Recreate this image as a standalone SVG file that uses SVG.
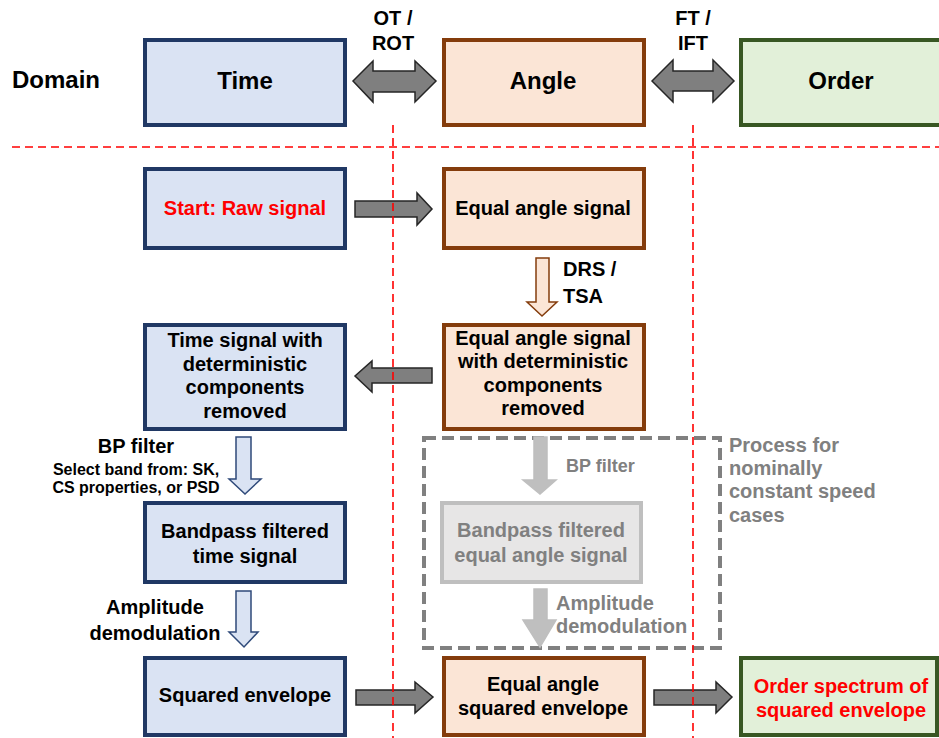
<svg xmlns="http://www.w3.org/2000/svg" width="939" height="738" viewBox="0 0 939 738">
  <defs>
    <style>
      text { font-family: "Liberation Sans", Arial, sans-serif; font-weight: bold; fill: #000; }
      .t20 { font-size: 20px; text-anchor: middle; }
      .t24 { font-size: 24px; text-anchor: middle; }
      .t16 { font-size: 16px; text-anchor: middle; }
      .red { fill: #FF0000; }
      .grey { fill: #808080; }
      .time { fill: #DAE3F3; stroke: #203864; stroke-width: 4; }
      .angle { fill: #FBE5D6; stroke: #843C0C; stroke-width: 4; }
      .order { fill: #E2F0D9; stroke: #385723; stroke-width: 4; }
      .ghost { fill: #E7E6E6; stroke: #BFBFBF; stroke-width: 4; }
      .flow { fill: #7F7F7F; stroke: #262626; stroke-width: 1.5; stroke-linejoin: miter; }
      .down-time { fill: #DAE3F3; stroke: #2F4A7A; stroke-width: 1.5; }
      .down-angle { fill: #FBE5D6; stroke: #843C0C; stroke-width: 1.5; }
      .down-grey { fill: #BFBFBF; stroke: #BFBFBF; stroke-width: 1.5; }
      .guide { stroke: #FF0000; stroke-width: 1.6; stroke-dasharray: 8 5; fill: none; }
      .frame { fill: none; stroke: #808080; stroke-width: 4; stroke-dasharray: 12 6; }
    </style>
  </defs>

  <rect width="939" height="738" fill="#FFFFFF"/>

  <!-- domain header row -->
  <text x="56" y="88" class="t24">Domain</text>

  <g id="domain-time">
    <rect x="145" y="40" width="200" height="85" class="time"/>
    <text x="245" y="89" class="t24">Time</text>
  </g>
  <g id="domain-angle">
    <rect x="444" y="40" width="200" height="85" class="angle"/>
    <text x="543" y="89" class="t24">Angle</text>
  </g>
  <g id="domain-order">
    <rect x="741" y="40" width="206" height="85" class="order"/>
    <text x="841" y="89" class="t24">Order</text>
  </g>

  <!-- process frame for nominally constant speed cases -->
  <g id="constant-speed-frame">
    <rect x="424" y="438" width="296" height="210" class="frame"/>
    <text x="729" y="452" class="grey" font-size="20">Process for</text>
    <text x="729" y="475" class="grey" font-size="20">nominally</text>
    <text x="729" y="498" class="grey" font-size="20">constant speed</text>
    <text x="729" y="522" class="grey" font-size="20">cases</text>
  </g>

  <!-- time column -->
  <g id="raw-signal">
    <rect x="145" y="169" width="200" height="79" class="time"/>
    <text x="245" y="215" class="t20 red">Start: Raw signal</text>
  </g>
  <g id="time-det-removed">
    <rect x="145" y="325" width="200" height="104" class="time"/>
    <text x="245" y="347" class="t20">Time signal with</text>
    <text x="245" y="371" class="t20">deterministic</text>
    <text x="245" y="394" class="t20">components</text>
    <text x="245" y="418" class="t20">removed</text>
  </g>
  <g id="time-bandpass">
    <rect x="145" y="503" width="200" height="79" class="time"/>
    <text x="245" y="538" class="t20">Bandpass filtered</text>
    <text x="245" y="563" class="t20">time signal</text>
  </g>
  <g id="time-sq-envelope">
    <rect x="145" y="658" width="200" height="77" class="time"/>
    <text x="245" y="702" class="t20">Squared envelope</text>
  </g>

  <!-- angle column -->
  <g id="angle-signal">
    <rect x="444" y="169" width="200" height="79" class="angle"/>
    <text x="543" y="215" class="t20">Equal angle signal</text>
  </g>
  <g id="angle-det-removed">
    <rect x="444" y="325" width="200" height="104" class="angle"/>
    <text x="543" y="345" class="t20">Equal angle signal</text>
    <text x="543" y="368" class="t20">with deterministic</text>
    <text x="543" y="392" class="t20">components</text>
    <text x="543" y="415" class="t20">removed</text>
  </g>
  <g id="angle-bandpass">
    <rect x="442" y="503" width="199" height="79" class="ghost"/>
    <text x="541" y="537" class="t20 grey">Bandpass filtered</text>
    <text x="541" y="562" class="t20 grey">equal angle signal</text>
  </g>
  <g id="angle-sq-envelope">
    <rect x="444" y="658" width="200" height="77" class="angle"/>
    <text x="543" y="691" class="t20">Equal angle</text>
    <text x="543" y="715" class="t20">squared envelope</text>
  </g>

  <!-- order column -->
  <g id="order-spectrum">
    <rect x="741" y="658" width="196" height="77" class="order"/>
    <text x="841" y="693" class="t20 red">Order spectrum of</text>
    <text x="841" y="717" class="t20 red">squared envelope</text>
  </g>

  <!-- connectors -->
  <g id="connectors">
    <!-- domain transforms -->
    <polygon class="flow" points="353,81 373,61 373,71 415,71 415,61 436,81 415,102 415,92 373,92 373,102"/>
    <polygon class="flow" points="652,81 673,60 673,71 713,71 713,60 734,81 713,102 713,91 673,91 673,102"/>
    <text x="393" y="25" class="t20">OT /</text>
    <text x="393" y="50" class="t20">ROT</text>
    <text x="693" y="25" class="t20">FT /</text>
    <text x="693" y="50" class="t20">IFT</text>

    <!-- raw signal to equal angle -->
    <polygon class="flow" points="355,201 417,201 417,193 432,209 417,225 417,217 355,217"/>
    <!-- DRS / TSA -->
    <polygon class="down-angle" points="536,258 549,258 549,302 557,302 542,316 527,302 536,302"/>
    <text x="563" y="276" font-size="20">DRS /</text>
    <text x="563" y="303" font-size="20">TSA</text>
    <!-- back to time domain -->
    <polygon class="flow" points="432,368 372,368 372,361 355,376 372,392 372,383 432,383"/>
    <!-- BP filter (time) -->
    <polygon class="down-time" points="236,437 251,437 251,479 261,479 245,494 229,479 236,479"/>
    <text x="136" y="453" class="t20">BP filter</text>
    <text x="136" y="475" class="t16">Select band from: SK,</text>
    <text x="136" y="493" class="t16">CS properties, or PSD</text>
    <!-- amplitude demodulation (time) -->
    <polygon class="down-time" points="236,591 251,591 251,632 258,632 244,647 229,632 236,632"/>
    <text x="155" y="614" class="t20">Amplitude</text>
    <text x="155" y="640" class="t20">demodulation</text>
    <!-- squared envelope to angle, angle to order -->
    <polygon class="flow" points="356,690 415,690 415,682 433,697 415,713 415,705 356,705"/>
    <polygon class="flow" points="654,690 716,690 716,682 732,697 716,713 716,705 654,705"/>
    <!-- constant speed path (angle) -->
    <polygon class="down-grey" points="534,437 547,437 547,480 556,480 540,494 523,480 534,480"/>
    <text x="566" y="472" class="grey" font-size="18">BP filter</text>
    <polygon class="down-grey" points="534,589 547,589 547,620 556,620 540,647 523,620 534,620"/>
    <text x="556" y="610" class="grey" font-size="20">Amplitude</text>
    <text x="556" y="633" class="grey" font-size="20">demodulation</text>
  </g>

  <!-- domain guide lines -->
  <g id="guides">
    <line x1="12" y1="147" x2="939" y2="147" class="guide"/>
    <line x1="393" y1="125" x2="393" y2="738" class="guide"/>
    <line x1="693" y1="125" x2="693" y2="738" class="guide"/>
  </g>
</svg>
